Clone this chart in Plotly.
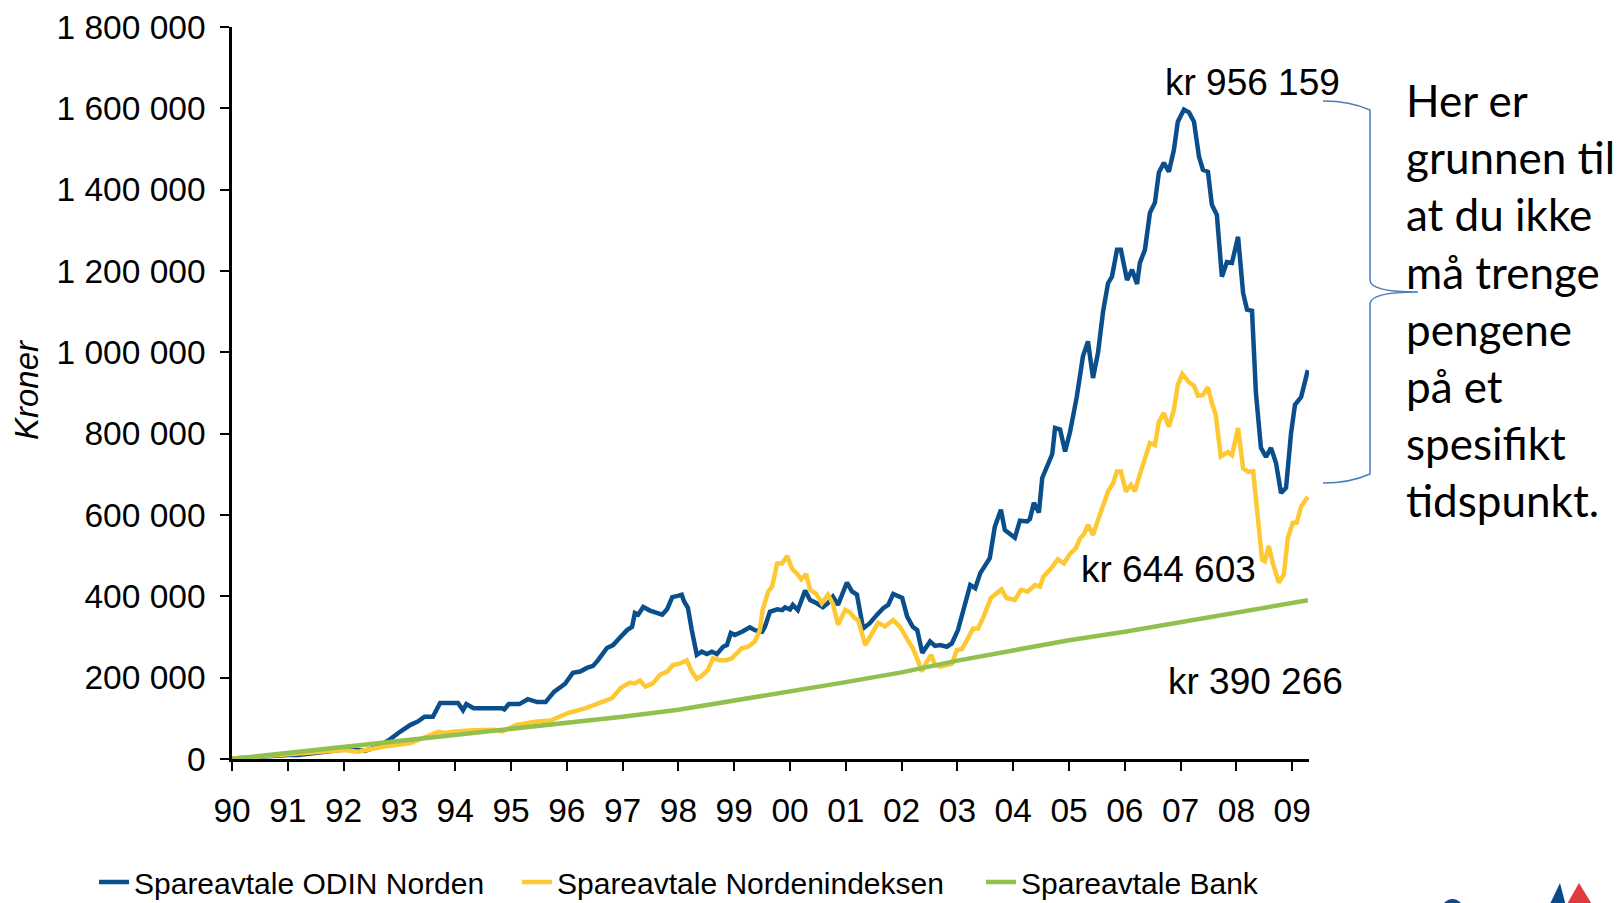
import plotly.graph_objects as go

# ---------------- data (values in kroner, x as decimal year) ----------------
odin_x = [1990.00, 1990.50, 1991.00, 1991.18, 1991.50, 1991.94, 1992.15, 1992.38, 1992.60, 1992.82,
          1993.01, 1993.20, 1993.33, 1993.45, 1993.60, 1993.73, 1994.05, 1994.14, 1994.20, 1994.33,
          1994.84, 1994.88, 1994.96, 1995.15, 1995.30, 1995.47, 1995.62, 1995.77, 1995.97,
          1996.06, 1996.11, 1996.24, 1996.36, 1996.47, 1996.56, 1996.72, 1996.83, 1996.95, 1997.08,
          1997.17, 1997.22, 1997.28, 1997.37, 1997.49, 1997.62, 1997.71, 1997.80, 1997.89, 1997.99,
          1998.06, 1998.10, 1998.17, 1998.24, 1998.33, 1998.42, 1998.51, 1998.60, 1998.69, 1998.80,
          1998.87, 1998.94, 1999.01, 1999.14, 1999.28, 1999.37, 1999.50, 1999.55, 1999.64, 1999.77,
          1999.86, 1999.91, 2000.00, 2000.05, 2000.14, 2000.27, 2000.36, 2000.48, 2000.59, 2000.68,
          2000.77, 2000.86, 2001.02, 2001.11, 2001.20, 2001.31, 2001.43, 2001.56, 2001.67, 2001.76,
          2001.85, 2002.01, 2002.10, 2002.20, 2002.28, 2002.37, 2002.51, 2002.60, 2002.69, 2002.81,
          2002.90, 2003.01, 2003.10, 2003.23, 2003.32, 2003.41, 2003.58, 2003.67, 2003.78, 2003.85,
          2004.03, 2004.12, 2004.25, 2004.30, 2004.37, 2004.46, 2004.52, 2004.61, 2004.70, 2004.75,
          2004.84, 2004.93, 2005.02, 2005.14, 2005.25, 2005.34, 2005.43, 2005.52, 2005.61, 2005.70,
          2005.77, 2005.86, 2005.93, 2006.04, 2006.13, 2006.22, 2006.27, 2006.36, 2006.45, 2006.54,
          2006.61, 2006.70, 2006.79, 2006.88, 2006.95, 2007.06, 2007.15, 2007.24, 2007.33, 2007.40,
          2007.49, 2007.56, 2007.65, 2007.74, 2007.83, 2007.92, 2008.03, 2008.12, 2008.19, 2008.28,
          2008.35, 2008.44, 2008.53, 2008.62, 2008.71, 2008.80, 2008.89, 2008.98, 2009.05, 2009.16,
          2009.28]
odin_y = [1000, 6000, 10000, 10000, 16000, 22000, 24000, 20000, 30000, 47000,
          67000, 84000, 92000, 104000, 104000, 138000, 138000, 120000, 135000, 125000,
          125000, 122000, 135000, 135000, 147000, 140000, 140000, 165000, 185000,
          202000, 212000, 215000, 224000, 229000, 243000, 273000, 280000, 298000, 317000,
          325000, 359000, 355000, 374000, 365000, 359000, 355000, 369000, 398000, 401000,
          404000, 388000, 372000, 317000, 256000, 264000, 258000, 264000, 258000, 276000,
          280000, 310000, 305000, 313000, 324000, 317000, 313000, 325000, 362000, 368000,
          366000, 373000, 368000, 379000, 366000, 414000, 391000, 383000, 373000, 383000,
          399000, 379000, 434000, 412000, 404000, 321000, 334000, 355000, 371000, 379000,
          406000, 396000, 350000, 325000, 317000, 261000, 289000, 278000, 280000, 276000,
          284000, 317000, 359000, 428000, 420000, 457000, 494000, 571000, 613000, 563000,
          544000, 586000, 584000, 590000, 630000, 606000, 691000, 723000, 750000, 814000,
          810000, 756000, 805000, 891000, 990000, 1027000, 937000, 999000, 1100000, 1170000,
          1186000, 1252000, 1252000, 1178000, 1203000, 1168000, 1220000, 1252000, 1343000, 1368000,
          1442000, 1466000, 1444000, 1498000, 1567000, 1597000, 1590000, 1567000, 1481000, 1449000,
          1444000, 1363000, 1338000, 1186000, 1222000, 1220000, 1284000, 1146000, 1105000, 1102000,
          900000, 765000, 743000, 765000, 728000, 654000, 667000, 802000, 871000, 890000,
          956159]

index_x = [1990.00, 1990.50, 1991.00, 1991.50, 1992.00, 1992.26, 1992.70, 1993.20, 1993.45, 1993.70,
           1993.83, 1993.95, 1994.33, 1994.70, 1994.84, 1995.10, 1995.47, 1995.72, 1996.02, 1996.34,
           1996.59, 1996.81, 1996.97, 1997.13, 1997.22, 1997.31, 1997.41, 1997.54, 1997.67, 1997.80,
           1997.90, 1998.03, 1998.15, 1998.24, 1998.33, 1998.44, 1998.53, 1998.62, 1998.74, 1998.87,
           1998.96, 1999.01, 1999.14, 1999.25, 1999.37, 1999.46, 1999.51, 1999.61, 1999.68, 1999.77,
           1999.86, 1999.95, 2000.04, 2000.12, 2000.20, 2000.29, 2000.36, 2000.47, 2000.57, 2000.68,
           2000.77, 2000.86, 2000.99, 2001.07, 2001.16, 2001.22, 2001.35, 2001.47, 2001.58, 2001.70,
           2001.85, 2001.97, 2002.10, 2002.20, 2002.29, 2002.36, 2002.45, 2002.53, 2002.60, 2002.69,
           2002.81, 2002.90, 2002.99, 2003.08, 2003.19, 2003.28, 2003.37, 2003.47, 2003.60, 2003.79,
           2003.88, 2004.03, 2004.14, 2004.26, 2004.39, 2004.48, 2004.54, 2004.67, 2004.80, 2004.91,
           2005.02, 2005.12, 2005.20, 2005.27, 2005.34, 2005.43, 2005.52, 2005.61, 2005.70, 2005.79,
           2005.86, 2005.93, 2006.02, 2006.11, 2006.18, 2006.27, 2006.36, 2006.45, 2006.54, 2006.61,
           2006.70, 2006.79, 2006.88, 2006.95, 2007.03, 2007.15, 2007.24, 2007.31, 2007.40, 2007.49,
           2007.56, 2007.63, 2007.72, 2007.85, 2007.92, 2008.03, 2008.12, 2008.21, 2008.30, 2008.37,
           2008.46, 2008.51, 2008.58, 2008.65, 2008.76, 2008.85, 2008.92, 2009.01, 2009.08, 2009.16,
           2009.28]
index_y = [1000, 6000, 12000, 18000, 22000, 18000, 30000, 39000, 52000, 67000,
           64000, 67000, 71000, 72000, 68000, 84000, 92000, 95000, 113000, 125000,
           138000, 150000, 175000, 188000, 186000, 193000, 178000, 186000, 207000, 215000,
           231000, 235000, 243000, 215000, 197000, 207000, 219000, 248000, 243000, 243000,
           248000, 256000, 273000, 276000, 289000, 317000, 367000, 412000, 424000, 481000,
           481000, 499000, 467000, 457000, 442000, 455000, 416000, 406000, 383000, 404000,
           381000, 330000, 367000, 361000, 346000, 342000, 280000, 309000, 335000, 326000,
           342000, 325000, 297000, 272000, 243000, 215000, 239000, 256000, 231000, 227000,
           231000, 234000, 268000, 270000, 297000, 321000, 321000, 350000, 396000, 417000,
           396000, 391000, 416000, 412000, 428000, 424000, 448000, 467000, 491000, 481000,
           505000, 518000, 543000, 553000, 576000, 551000, 588000, 625000, 658000, 678000,
           707000, 707000, 658000, 674000, 658000, 700000, 735000, 777000, 772000, 829000,
           851000, 817000, 859000, 920000, 947000, 926000, 918000, 893000, 895000, 914000,
           876000, 846000, 744000, 755000, 747000, 814000, 715000, 706000, 708000, 604000,
           490000, 486000, 524000, 483000, 434000, 453000, 543000, 581000, 581000, 621000,
           644603]

bank_x = [1990.0, 1991.0, 1992.0, 1993.0, 1994.0, 1995.0, 1996.0, 1997.0, 1998.0, 1999.0,
          2000.0, 2001.0, 2002.0, 2003.0, 2004.0, 2005.0, 2006.0, 2007.0, 2008.0, 2009.0, 2009.28]
bank_y = [0, 15000, 28000, 45000, 58000, 74000, 90000, 104000, 121000, 143000,
          166000, 189000, 213000, 242000, 267000, 292000, 313000, 337000, 362000, 384000, 390266]

series_names = ["Spareavtale ODIN Norden", "Spareavtale Nordenindeksen", "Spareavtale Bank"]
year_ticks = list(range(1990, 2010))
year_labels = ["90", "91", "92", "93", "94", "95", "96", "97", "98", "99",
               "00", "01", "02", "03", "04", "05", "06", "07", "08", "09"]
y_ticks = [0, 200000, 400000, 600000, 800000, 1000000, 1200000, 1400000, 1600000, 1800000]
y_labels = ["0", "200 000", "400 000", "600 000", "800 000", "1 000 000",
            "1 200 000", "1 400 000", "1 600 000", "1 800 000"]
end_labels = ["kr 956 159", "kr 644 603", "kr 390 266"]
side_text = "Her er<br>grunnen til<br>at du ikke<br>må trenge<br>pengene<br>på et<br>spesifikt<br>tidspunkt."

# ---------------- styling ----------------
# the page body has an 8px margin, so the figure is made 8px smaller and
# all positions below are given in screen pixels of the reference.
OFF = 8
W, H = 1624 - OFF, 903 - OFF
PL, PT, PR, PB = 232, 27, 1309, 759          # plot area in screen pixels
PW, PH = PR - PL, PB - PT
L, T = PL - OFF, PT - OFF
R, B = W - L - PW, H - T - PH
FONT = "Liberation Sans, Arial, sans-serif"
colors = ["#0a4f8c", "#fec832", "#92c04e"]


def px(xp):
    return (xp - PL) / PW


def py(yp):
    return (PB - yp) / PH


fig = go.Figure()
legend_ids = ["legend", "legend2", "legend3"]
for xs, ys, name, c, lg in [(odin_x, odin_y, series_names[0], colors[0], legend_ids[0]),
                            (index_x, index_y, series_names[1], colors[1], legend_ids[1]),
                            (bank_x, bank_y, series_names[2], colors[2], legend_ids[2])]:
    fig.add_trace(go.Scatter(x=xs, y=ys, mode="lines", name=name, legend=lg,
                             line=dict(color=c, width=4.5), hoverinfo="skip"))

leg_common = dict(orientation="h", xanchor="left", y=py(882), yanchor="middle",
                  font=dict(size=30, family=FONT), bgcolor="rgba(0,0,0,0)")
fig.update_layout(
    width=W, height=H,
    margin=dict(l=L, r=R, t=T, b=B, pad=0, autoexpand=False),
    paper_bgcolor="white", plot_bgcolor="white",
    font=dict(family=FONT, color="black", size=33),
    showlegend=True,
    legend=dict(x=px(94), **leg_common),
    legend2=dict(x=px(517), **leg_common),
    legend3=dict(x=px(981), **leg_common),
)
fig.update_xaxes(range=[1990, 1990 + PW / 55.8], tickmode="array", tickvals=year_ticks,
                 ticktext=year_labels, showgrid=False, zeroline=False, automargin=False,
                 showline=True, linecolor="black", linewidth=2.5,
                 ticks="outside", ticklen=9, tickwidth=2, tickcolor="black",
                 tickfont=dict(size=33.5, family=FONT), ticklabelstandoff=11)
fig.update_yaxes(range=[0, 1800000], tickmode="array", tickvals=y_ticks, ticktext=y_labels,
                 showgrid=False, zeroline=False, automargin=False,
                 showline=True, linecolor="black", linewidth=2.5,
                 ticks="outside", ticklen=9, tickwidth=2, tickcolor="black",
                 tickfont=dict(size=33.5, family=FONT), ticklabelstandoff=8)

# axis title
fig.add_annotation(text="<i>Kroner</i>", xref="paper", yref="paper", x=px(26), y=py(390),
                   textangle=-90, showarrow=False, font=dict(size=33, family=FONT),
                   xanchor="center", yanchor="middle")

# end value labels
fig.add_annotation(text=end_labels[0], xref="paper", yref="paper", x=px(1252), y=py(83),
                   showarrow=False, font=dict(size=37, family=FONT), xanchor="center", yanchor="middle")
fig.add_annotation(text=end_labels[1], xref="paper", yref="paper", x=px(1168), y=py(569),
                   showarrow=False, font=dict(size=37, family=FONT), xanchor="center", yanchor="middle")
fig.add_annotation(text=end_labels[2], xref="paper", yref="paper", x=px(1255), y=py(681),
                   showarrow=False, font=dict(size=37, family=FONT), xanchor="center", yanchor="middle")

# side text
fig.add_annotation(text=side_text, xref="paper", yref="paper", x=px(1404), y=py(300),
                   showarrow=False, align="left", font=dict(size=44, family="Lato, Carlito, sans-serif"),
                   xanchor="left", yanchor="middle")

# curly bracket
bx = [px(v) for v in (1323, 1350, 1370, 1370, 1370, 1372, 1418, 1372, 1370, 1370, 1370, 1350, 1323)]
by = [py(v) for v in (101, 101, 110, 280, 292, 292, 292, 292, 292, 304, 474, 483, 483)]
path = (f"M {bx[0]},{by[0]} Q {bx[1]},{by[1]} {bx[2]},{by[2]} L {bx[3]},{by[3]} "
        f"Q {bx[4]},{by[4]} {bx[6]},{by[6]} Q {bx[8]},{by[8]} {bx[9]},{by[9]} "
        f"L {bx[10]},{by[10]} Q {bx[11]},{by[11]} {bx[12]},{by[12]}")
fig.add_shape(type="path", path=path, xref="paper", yref="paper",
              line=dict(color="#4a7ebb", width=1.5))

# partial logo in the corner
fig.add_shape(type="path", xref="paper", yref="paper",
              path=f"M {px(1566)},{py(906)} L {px(1579)},{py(883)} L {px(1593)},{py(906)} Z",
              fillcolor="#e03a3e", line=dict(width=0))
fig.add_shape(type="path", xref="paper", yref="paper",
              path=f"M {px(1549)},{py(906)} L {px(1560)},{py(883)} L {px(1566)},{py(906)} Z",
              fillcolor="#0b4a8a", line=dict(width=0))
fig.add_shape(type="circle", xref="paper", yref="paper",
              x0=px(1441), x1=px(1464), y0=py(925), y1=py(899),
              fillcolor="#0b4a8a", line=dict(width=0))

fig.write_html("out.html")
